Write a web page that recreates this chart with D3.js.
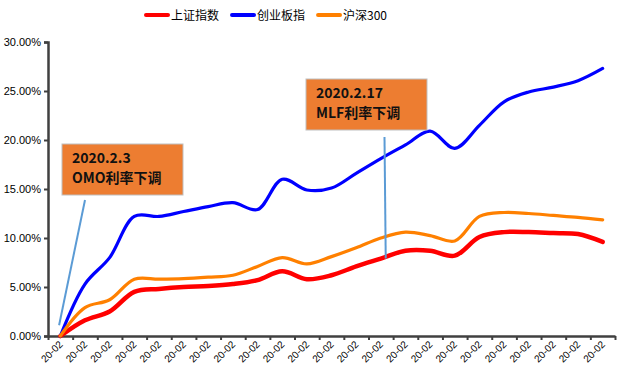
<!DOCTYPE html>
<html>
<head>
<meta charset="utf-8">
<script src="https://cdn.jsdelivr.net/npm/d3@7"></script>
<style>
  body { margin: 0; background: #fff; }
  svg { display: block; }
</style>
</head>
<body>
<div id="chart"></div>
<script>
// x categories (all trading days shown as "20-02")
var categories = ["20-02", "20-02", "20-02", "20-02", "20-02", "20-02", "20-02", "20-02",
    "20-02", "20-02", "20-02", "20-02", "20-02", "20-02", "20-02", "20-02",
    "20-02", "20-02", "20-02", "20-02", "20-02", "20-02", "20-02"];

var shIndex = [0, 1.6, 2.5, 4.5, 4.8, 5.0, 5.1, 5.3, 5.7, 6.6, 5.8, 6.2,
    7.1, 7.9, 8.7, 8.7, 8.2, 10.1, 10.6, 10.6, 10.5, 10.4, 9.6];
var cybIndex = [0, 5.3, 8.0, 12.2, 12.2, 12.7, 13.2, 13.6, 12.9, 16.0, 14.9, 15.1,
    16.6, 18.1, 19.5, 20.9, 19.15, 21.5, 23.9, 24.9, 25.4, 26.05, 27.3];
var hs300 = [0, 2.9, 3.7, 5.8, 5.8, 5.85, 6.0, 6.2, 7.1, 8.0, 7.35, 8.1,
    9.0, 10.0, 10.6, 10.25, 9.7, 12.2, 12.6, 12.5, 12.3, 12.1, 11.85];

var yTicks = [0, 5, 10, 15, 20, 25, 30];

var seriesNames = ["上证指数", "创业板指", "沪深300"];

// annotations: anchor category index + value (%) for the pointer end
var notes = [
    {lines: ["2020.2.3", "OMO利率下调"], at: -0.05, val: 1.1},
    {lines: ["2020.2.17", "MLF利率下调"], at: 13.2, val: 7.9}
];

var width = 624, height = 375;
var plot = {left: 48, right: 615, top: 42, bottom: 336};

var svg = d3.select('#chart')
    .append('svg')
    .attr('width', width)
    .attr('height', height);

var series = [
    {name: seriesNames[0], values: shIndex, color: '#ff0000', w: 4.5},
    {name: seriesNames[1], values: cybIndex, color: '#0000ff', w: 3.2},
    {name: seriesNames[2], values: hs300, color: '#ff8000', w: 3.2}
];

var xEdge = d3.scaleLinear()
    .domain([0, categories.length])
    .range([plot.left, plot.right]);
function xc(i) { return xEdge(i + 0.5); }

var y = d3.scaleLinear()
    .domain([0, 30])
    .range([plot.bottom, plot.top]);

// y axis
var yAxis = svg.append('g')
    .attr('transform', `translate(${plot.left},0)`)
    .call(d3.axisLeft(y)
        .tickValues(yTicks)
        .tickSize(4)
        .tickPadding(3)
        .tickFormat(function (d) { return d.toFixed(2) + '%'; }));
yAxis.select('.domain').attr('stroke', '#404040').attr('stroke-width', 2.5);
yAxis.selectAll('.tick line').attr('stroke', '#404040').attr('stroke-width', 2);
yAxis.selectAll('.tick text')
    .attr('fill', '#000')
    .style('font-family', '"Liberation Sans", Arial, sans-serif')
    .style('font-size', '11px');

// x axis
var xAxis = svg.append('g')
    .attr('transform', `translate(0,${plot.bottom})`)
    .call(d3.axisBottom(xEdge)
        .tickValues(d3.range(categories.length + 1))
        .tickSize(4)
        .tickSizeOuter(0)
        .tickFormat(''));
xAxis.select('.domain').attr('stroke', '#404040').attr('stroke-width', 2.5);
xAxis.selectAll('.tick line').attr('stroke', '#404040').attr('stroke-width', 2);

svg.append('g')
    .selectAll('text')
    .data(categories)
    .join('text')
    .attr('transform', function (d, i) {
        return `translate(${xc(i) + 3},${plot.bottom + 9}) rotate(-45)`;
    })
    .attr('text-anchor', 'end')
    .attr('fill', '#000')
    .style('font-family', '"Liberation Sans", Arial, sans-serif')
    .style('font-size', '10px')
    .text(function (d) { return d; });

// lines
var line = d3.line()
    .x(function (d, i) { return xc(i); })
    .y(function (d) { return y(d); })
    .curve(d3.curveCatmullRom.alpha(0.5));

svg.append('g')
    .selectAll('path')
    .data(series)
    .join('path')
    .attr('d', function (d) { return line(d.values); })
    .attr('fill', 'none')
    .attr('stroke', function (d) { return d.color; })
    .attr('stroke-width', function (d) { return d.w; })
    .attr('stroke-linejoin', 'round')
    .attr('stroke-linecap', 'round');

// annotations
var boxes = [
    {x: 62, y: 144, w: 121, h: 51, tip: [85, 200]},
    {x: 306, y: 79, w: 121, h: 51, tip: [384.5, 137]}
];
notes.forEach(function (n, k) {
    var b = boxes[k];
    svg.append('line')
        .attr('x1', b.tip[0]).attr('y1', b.tip[1])
        .attr('x2', xc(n.at)).attr('y2', y(n.val))
        .attr('stroke', '#5b9bd5')
        .attr('stroke-width', 2);
    svg.append('rect')
        .attr('x', b.x).attr('y', b.y)
        .attr('width', b.w).attr('height', b.h)
        .attr('fill', '#ed7d31')
        .attr('stroke', '#bfbfbf')
        .attr('stroke-width', 1);
    svg.append('text')
        .attr('x', b.x + 10)
        .attr('y', b.y + 19)
        .style('font-family', '"Noto Sans CJK SC", "Noto Sans", sans-serif')
        .style('font-size', '14px')
        .style('font-weight', 'bold')
        .attr('fill', '#111')
        .selectAll('tspan')
        .data(n.lines)
        .join('tspan')
        .attr('x', b.x + 10)
        .attr('dy', function (d, i) { return i === 0 ? 0 : 20; })
        .text(function (d) { return d; });
});

// legend
var legend = svg.append('g');
var lx = 146;
series.forEach(function (s) {
    var g = legend.append('g').attr('transform', `translate(${lx},15)`);
    g.append('line')
        .attr('x1', 0).attr('x2', 22)
        .attr('y1', 0).attr('y2', 0)
        .attr('stroke', s.color)
        .attr('stroke-width', 4)
        .attr('stroke-linecap', 'round');
    var t = g.append('text')
        .attr('x', 25)
        .attr('y', 4.5)
        .attr('fill', '#000')
        .style('font-family', '"Noto Sans CJK SC", sans-serif')
        .style('font-size', '12px')
        .text(s.name);
    lx += 25 + t.node().getComputedTextLength() + 13;
});
</script>
</body>
</html>
